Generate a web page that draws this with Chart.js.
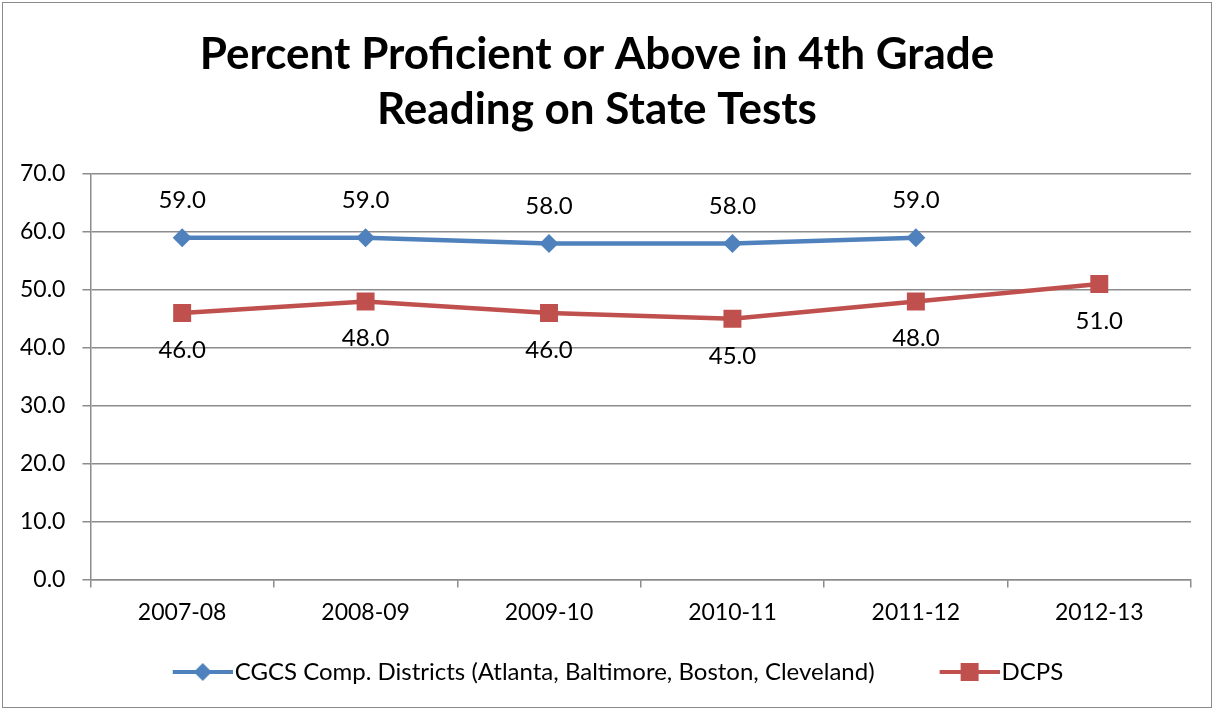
<!DOCTYPE html>
<html>
<head>
<meta charset="utf-8">
<script src="https://cdn.jsdelivr.net/npm/chart.js@4.4.1/dist/chart.umd.min.js"></script>
<style>
  html, body { margin: 0; padding: 0; background: #fff; }
  #frame {
    position: absolute; left: 2px; top: 2px;
    width: 1208px; height: 704px;
    border: 1px solid #8a8a8a;
  }
</style>
</head>
<body>
<div id="frame"><canvas id="chartReading" width="1208" height="704"></canvas></div>
<script>
const years = ['2007-08', '2008-09', '2009-10', '2010-11', '2011-12', '2012-13'];
const cgcs = [59.0, 59.0, 58.0, 58.0, 59.0, null];
const dcps = [46.0, 48.0, 46.0, 45.0, 48.0, 51.0];
const seriesNames = ['CGCS Comp. Districts (Atlanta, Baltimore, Boston, Cleveland)', 'DCPS'];

const BLUE = '#4f81bd';
const RED = '#c0504d';
const FONT = 'Lato, "Open Sans", sans-serif';
const ICON_BOX = 92;

// legend picture: blank room on the left (gap between items), then line + marker,
// a bit wider than the box so the line runs close to the text
function legendIcon(color, shape) {
  const c = document.createElement('canvas');
  c.width = ICON_BOX + 20; c.height = 20;
  const g = c.getContext('2d');
  const x0 = c.width - 60;
  g.strokeStyle = color;
  g.lineWidth = 4;
  g.beginPath(); g.moveTo(x0, 10); g.lineTo(x0 + 60, 10); g.stroke();
  g.fillStyle = color;
  g.beginPath();
  if (shape === 'diamond') {
    g.moveTo(x0 + 30, 1); g.lineTo(x0 + 39, 10); g.lineTo(x0 + 30, 19); g.lineTo(x0 + 21, 10);
  } else {
    g.rect(x0 + 21, 1, 18, 18);
  }
  g.closePath(); g.fill();
  return c;
}

// value labels, above or below each point (no datalabels plugin here)
const valueLabels = {
  id: 'valueLabels',
  afterDatasetsDraw(chart) {
    const ctx = chart.ctx;
    ctx.save();
    ctx.font = '24px ' + FONT;
    ctx.fillStyle = '#000';
    ctx.textAlign = 'center';
    ctx.textBaseline = 'middle';
    chart.data.datasets.forEach((ds, i) => {
      const meta = chart.getDatasetMeta(i);
      meta.data.forEach((pt, j) => {
        const v = ds.data[j];
        if (v === null || v === undefined) return;
        const dy = ds.labelSide === 'below' ? 37 : -37;
        ctx.fillText(v.toFixed(1), pt.x, pt.y + dy);
      });
    });
    ctx.restore();
  }
};

new Chart(document.getElementById('chartReading').getContext('2d'), {
  type: 'line',
  data: {
    labels: years,
    datasets: [{
      label: seriesNames[0],
      data: cgcs,
      borderColor: BLUE,
      backgroundColor: BLUE,
      borderWidth: 4.5,
      pointStyle: 'rectRot',
      pointRadius: 9.5,
      pointHoverRadius: 9.5,
      pointBorderWidth: 0,
      tension: 0,
      labelSide: 'above',
      legendIcon: legendIcon(BLUE, 'diamond')
    }, {
      label: seriesNames[1],
      data: dcps,
      borderColor: RED,
      backgroundColor: RED,
      borderWidth: 4.5,
      pointStyle: 'rect',
      pointRadius: 12.7,
      pointHoverRadius: 12.7,
      pointBorderWidth: 0,
      tension: 0,
      labelSide: 'below',
      legendIcon: legendIcon(RED, 'square')
    }]
  },
  options: {
    responsive: false,
    animation: false,
    layout: { padding: { left: 0, right: 20, top: 14, bottom: 13 } },
    scales: {
      x: {
        offset: true,
        grid: { display: true, drawOnChartArea: false, drawTicks: true, tickLength: 8, color: '#8c8c8c', lineWidth: 1.5, offset: true },
        border: { display: true, color: '#8c8c8c', width: 1.5 },
        ticks: { color: '#000', font: { family: FONT, size: 23 }, padding: 11 }
      },
      y: {
        min: 0,
        max: 70,
        ticks: {
          stepSize: 10,
          color: '#000',
          font: { family: FONT, size: 23 },
          padding: 17,
          callback: v => v.toFixed(1)
        },
        grid: { color: '#8c8c8c', lineWidth: 1.5, tickLength: 8 },
        border: { display: true, color: '#8c8c8c', width: 1.5 }
      }
    },
    plugins: {
      title: {
        display: true,
        text: ['Percent Proficient or Above in 4th Grade', 'Reading on State Tests'],
        color: '#000',
        font: { family: FONT, size: 44, weight: 'bold', lineHeight: 1.25 },
        padding: { top: 10, bottom: 37 }
      },
      legend: {
        position: 'bottom',
        labels: {
          color: '#000',
          font: { family: FONT, size: 24 },
          usePointStyle: true,
          pointStyleWidth: ICON_BOX,
          padding: 23,
          generateLabels(chart) {
            return chart.data.datasets.map((ds, i) => ({
              text: ds.label,
              pointStyle: ds.legendIcon,
              fillStyle: ds.backgroundColor,
              strokeStyle: ds.borderColor,
              lineWidth: 0,
              fontColor: '#000',
              datasetIndex: i
            }));
          }
        }
      },
      tooltip: { enabled: false }
    }
  },
  plugins: [valueLabels]
});
</script>
</body>
</html>
